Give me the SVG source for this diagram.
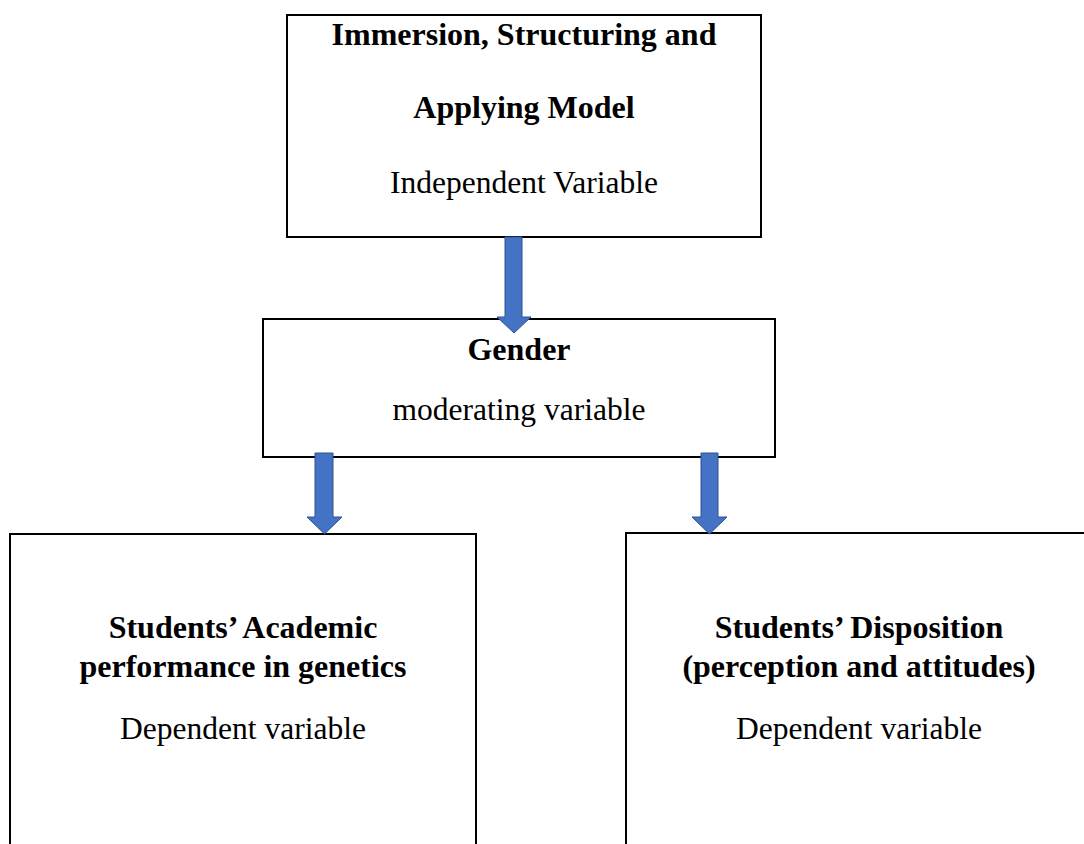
<svg xmlns="http://www.w3.org/2000/svg" width="1084" height="844" viewBox="0 0 1084 844">
<style>
.box{fill:#fff;stroke:#000;stroke-width:2}
.b{font-family:"Liberation Serif","Times New Roman",serif;font-weight:bold;font-size:32px;text-anchor:middle;fill:#000}
.r{font-family:"Liberation Serif","Times New Roman",serif;font-size:31.5px;text-anchor:middle;fill:#000}
.arr{fill:#4472C4;stroke:#2F528F;stroke-width:1}
</style>
<rect width="1084" height="844" fill="#fff"/>
<g id="node-independent">
<rect class="box" x="287" y="15" width="474" height="222"/>
<text class="b" x="524" y="45">Immersion, Structuring and</text>
<text class="b" x="524" y="118">Applying Model</text>
<text class="r" x="524" y="193">Independent Variable</text>
</g>
<g id="node-gender">
<rect class="box" x="263" y="319" width="512" height="138"/>
<text class="b" x="519" y="360">Gender</text>
<text class="r" x="519" y="420">moderating variable</text>
</g>
<g id="node-academic">
<rect class="box" x="10" y="534" width="466" height="330"/>
<text class="b" x="243" y="638">Students’ Academic</text>
<text class="b" x="243" y="677">performance in genetics</text>
<text class="r" x="243" y="739">Dependent variable</text>
</g>
<g id="node-disposition">
<rect class="box" x="626" y="533" width="480" height="330"/>
<text class="b" x="859" y="638">Students’ Disposition</text>
<text class="b" x="859" y="677">(perception and attitudes)</text>
<text class="r" x="859" y="739">Dependent variable</text>
</g>
<g id="connectors">
<path class="arr" d="M505,237 H522 V317 H531 L514,333 L497,317 H505 Z"/>
<path class="arr" d="M315,453 H333 V517 H342 L324.5,534 L307,517 H315 Z"/>
<path class="arr" d="M701,453 H718 V517 H727 L709.5,534 L692,517 H701 Z"/>
</g>
</svg>
